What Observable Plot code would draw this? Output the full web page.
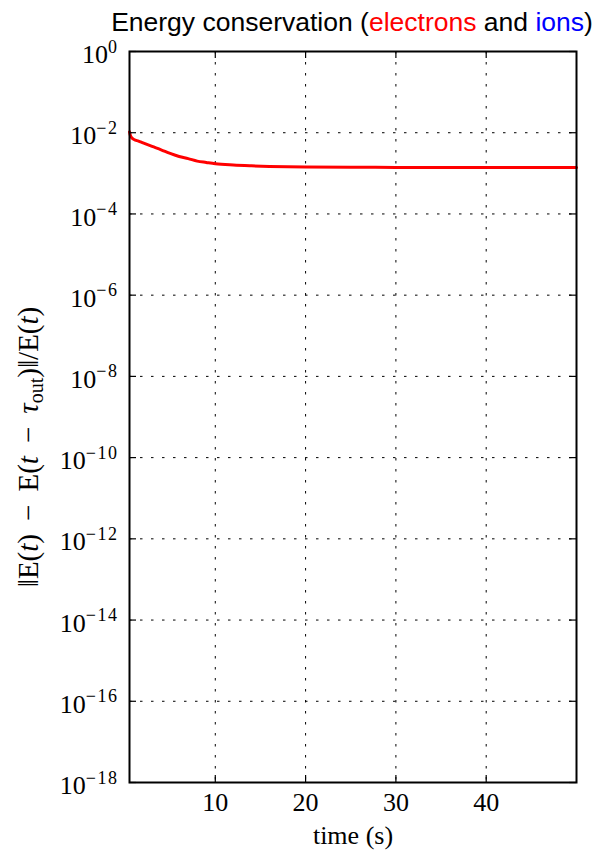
<!DOCTYPE html>
<html><head><meta charset="utf-8">
<script src="https://cdn.jsdelivr.net/npm/d3@7"></script>
<script src="https://cdn.jsdelivr.net/npm/@observablehq/plot@0.6"></script>
<style>
body{margin:0;background:#fff;}
#wrap{position:relative;width:597px;height:850px;overflow:hidden;}
#title{position:absolute;left:0;width:704px;top:8.6px;text-align:center;font:26.5px/26.5px "Liberation Sans",Arial,sans-serif;white-space:nowrap;color:#000;}
</style></head><body>
<div id="wrap"><div id="title">Energy conservation (<span style="color:#ff0000">electrons</span> and <span style="color:#0000ff">ions</span>)</div></div>
<script>
// time (s)
const time = [0.5, 0.6, 0.8, 1.0, 1.5, 2, 3, 4, 5, 6, 7, 8, 9, 10, 12, 14, 16, 18, 20, 25, 30, 35, 40, 45, 50];
// relative energy error, electrons
const energyError = [1.05e-2, 8.5e-3, 7.3e-3, 6.8e-3, 6.2e-3, 5.6e-3, 4.6e-3, 3.8e-3, 3.1e-3, 2.6e-3, 2.3e-3, 2.0e-3, 1.85e-3, 1.72e-3, 1.6e-3, 1.53e-3, 1.48e-3, 1.45e-3, 1.43e-3, 1.41e-3, 1.40e-3, 1.40e-3, 1.40e-3, 1.40e-3, 1.40e-3];
const xTicks = [10, 20, 30, 40];
const yTicks = [1e-18, 1e-16, 1e-14, 1e-12, 1e-10, 1e-8, 1e-6, 1e-4, 1e-2, 1];
const yTickExponents = ["\u221218", "\u221216", "\u221214", "\u221212", "\u221210", "\u22128", "\u22126", "\u22124", "\u22122", "0"];

const W = 597, H = 850, mt = 51, mb = 68, ml = 129, mr = 21;
const fw = W - ml - mr, fh = H - mt - mb, tickLen = 7;
const data = time.map((t, i) => ({t, v: energyError[i]}));
const serif = '"Liberation Serif","DejaVu Serif",serif';
const grid = {stroke: "black", strokeOpacity: 1, strokeWidth: 1, strokeDasharray: "2.5,8.5"};

const chart = Plot.plot({
  width: W, height: H,
  marginTop: mt, marginBottom: mb, marginLeft: ml, marginRight: mr,
  style: {fontFamily: serif, fontSize: "26px", background: "white", color: "black"},
  x: {domain: [0.5, 50]},
  y: {type: "log", domain: [1e-18, 1]},
  marks: [
    Plot.gridX(xTicks, grid),
    Plot.gridY(yTicks.slice(1, -1), grid),
    Plot.line(data, {x: "t", y: "v", stroke: "#ff0000", strokeWidth: 3, curve: "monotone-x"}),
    Plot.tickX(xTicks, {x: d => d, insetTop: fh - tickLen, stroke: "black", strokeWidth: 1.2}),
    Plot.tickX(xTicks, {x: d => d, insetBottom: fh - tickLen, stroke: "black", strokeWidth: 1.2}),
    Plot.tickY(yTicks, {y: d => d, insetRight: fw - tickLen, stroke: "black", strokeWidth: 1.2}),
    Plot.tickY(yTicks, {y: d => d, insetLeft: fw - tickLen, stroke: "black", strokeWidth: 1.2}),
    Plot.frame({stroke: "black", strokeWidth: 2}),
    Plot.axisX(xTicks, {tickSize: 0, tickPadding: 10.5, label: null, tickFormat: d => String(d), fontSize: 26}),
    Plot.axisY(yTicks, {tickSize: 0, tickPadding: 11, label: null, dy: 3.3, fontSize: 26,
      tickFormat: d => yTickExponents[yTicks.indexOf(d)]}),
    Plot.text(["time (s)"], {frameAnchor: "bottom", lineAnchor: "middle", dy: 52.7, fontSize: 26})
  ]
});

const NS = "http://www.w3.org/2000/svg";
function ts(parent, txt, attrs) {
  const s = document.createElementNS(NS, "tspan");
  for (const k in (attrs || {})) s.setAttribute(k, attrs[k]);
  s.textContent = txt; parent.appendChild(s); return s;
}
// superscript exponents on y tick labels
chart.querySelectorAll('g[aria-label="y-axis tick label"] text').forEach(t => {
  const e = t.textContent; t.textContent = "";
  ts(t, "10");
  ts(t, e, {dy: "-10.6", "font-size": "18px", "letter-spacing": "1.5px"});
});
// y axis label (math-styled), rotated, beside the frame
const yl = document.createElementNS(NS, "text");
yl.setAttribute("transform", "translate(38,447) rotate(-90)");
yl.setAttribute("text-anchor", "middle");
yl.setAttribute("font-size", "29");
yl.setAttribute("fill", "black");
ts(yl, "\u2016E(");
ts(yl, "t", {"font-style": "italic"});
ts(yl, ")\u2009 \u2212 \u2009E(");
ts(yl, "t", {"font-style": "italic"});
ts(yl, "\u2009 \u2212 \u2009");
ts(yl, "\u03c4", {"font-style": "italic"});
ts(yl, "out", {dy: "5", "font-size": "20px"});
ts(yl, ")\u2016/E(", {dy: "-5"});
ts(yl, "t", {"font-style": "italic"});
ts(yl, ")");
chart.appendChild(yl);

const wrap = document.getElementById("wrap");
wrap.appendChild(chart);
chart.style.position = "absolute"; chart.style.left = "0"; chart.style.top = "0";
wrap.appendChild(document.getElementById("title"));
</script>
</body></html>
